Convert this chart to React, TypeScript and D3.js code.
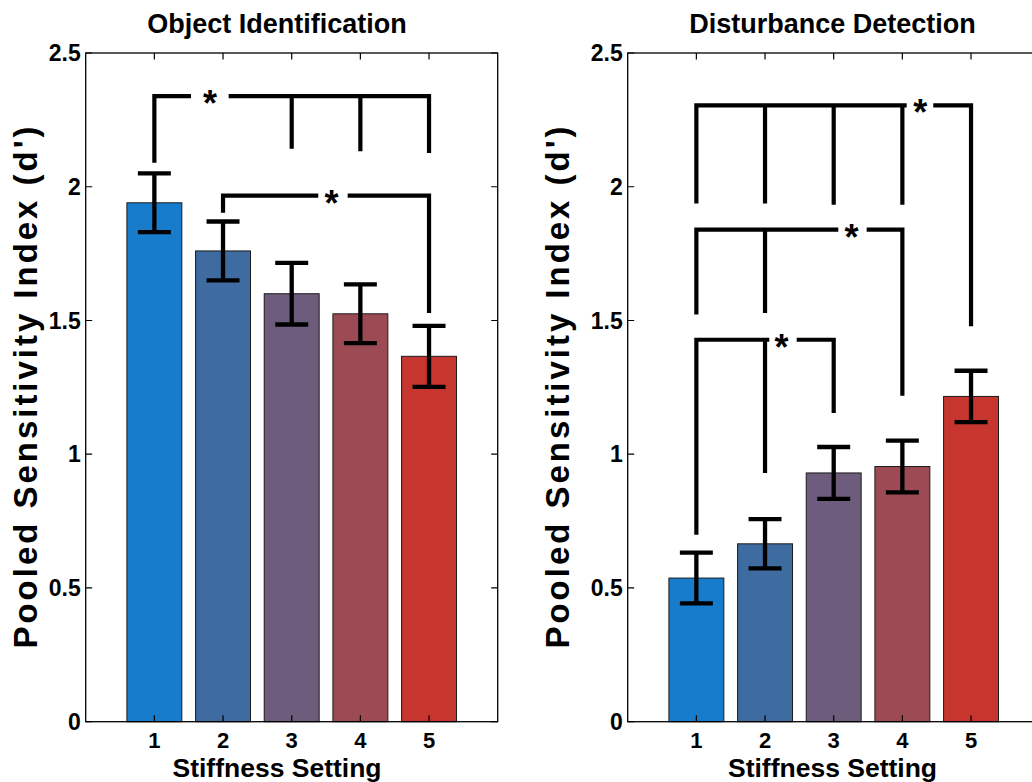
import React from "react";
import * as d3 from "d3";

const settings = [1, 2, 3, 4, 5];
const yTicks = [0, 0.5, 1, 1.5, 2, 2.5];
const barColors = ["#177ccc", "#3e6ba0", "#6e5c7c", "#9c4b55", "#c6362e"];

const objMeans = [1.94, 1.76, 1.6, 1.525, 1.366];
const objErr = [0.11, 0.11, 0.115, 0.11, 0.114];

const distMeans = [0.537, 0.665, 0.93, 0.954, 1.216];
const distErr = [0.095, 0.092, 0.097, 0.097, 0.096];

type Bracket = {
  top: number;
  legs: [number, number][];
  gap: [number, number];
  star: number;
};

const objBrackets: Bracket[] = [
  { top: 2.339, legs: [[1, 2.09], [3, 2.142], [4, 2.133], [5, 2.126]], gap: [1.533, 2.082], star: 1.81 },
  { top: 1.967, legs: [[2, 1.903], [5, 1.528]], gap: [3.387, 3.815], star: 3.58 },
];

const distBrackets: Bracket[] = [
  { top: 2.304, legs: [[1, 1.937], [2, 1.937], [3, 1.933], [4, 1.933], [5, 1.478]], gap: [4.063, 4.45], star: 4.26 },
  { top: 1.84, legs: [[1, 1.522], [2, 1.528], [4, 1.219]], gap: [3.067, 3.48], star: 3.26 },
  { top: 1.428, legs: [[1, 0.699], [2, 0.93], [3, 1.154]], gap: [2.062, 2.461], star: 2.24 },
];

const FONT = "'Liberation Sans', Arial, Helvetica, sans-serif";

const Panel = ({
  title,
  means,
  errs,
  brackets,
  left,
  labelCx,
  yLabelX,
}: {
  title: string;
  means: number[];
  errs: number[];
  brackets: Bracket[];
  left: number;
  labelCx: number;
  yLabelX: number;
}) => {
  const top = 53;
  const bottom = 721.7;
  const w = 412;
  const x = d3.scaleLinear().domain([0, 6]).range([left, left + w]);
  const y = d3.scaleLinear().domain([0, 2.5]).range([bottom, top]);
  const bw = x(0.8) - x(0);
  const cap = x(0.48) - x(0);
  const tick = 6.5;

  return (
    <g fontFamily={FONT} fontWeight="bold" fill="#000">
      <text x={labelCx} y={33} fontSize={27} textAnchor="middle">
        {title}
      </text>

      {means.map((m, i) => (
        <rect
          key={i}
          x={x(settings[i]) - bw / 2}
          y={y(m)}
          width={bw}
          height={y(0) - y(m)}
          fill={barColors[i]}
          stroke="#1b1b1b"
          strokeWidth={1}
        />
      ))}

      {means.map((m, i) => {
        const cx = x(settings[i]);
        const hi = y(m + errs[i]);
        const lo = y(m - errs[i]);
        return (
          <path
            key={i}
            d={`M${cx},${hi}V${lo}M${cx - cap / 2},${hi}H${cx + cap / 2}M${cx - cap / 2},${lo}H${cx + cap / 2}`}
            stroke="#000"
            strokeWidth={4.3}
            fill="none"
          />
        );
      })}

      {brackets.map((b, i) => {
        const first = b.legs[0];
        const last = b.legs[b.legs.length - 1];
        const yt = y(b.top);
        let d = `M${x(first[0])},${y(first[1])}V${yt}H${x(b.gap[0])}`;
        d += `M${x(b.gap[1])},${yt}H${x(last[0])}V${y(last[1])}`;
        b.legs.slice(1, -1).forEach(([c, v]) => {
          d += `M${x(c)},${yt}V${y(v)}`;
        });
        return (
          <g key={i}>
            <path d={d} stroke="#000" strokeWidth={4.2} fill="none" strokeLinejoin="miter" />
            <text x={x(b.star)} y={yt + 20} fontSize={36} textAnchor="middle">
              *
            </text>
          </g>
        );
      })}

      {/* axes box and ticks */}
      <rect x={x(0)} y={top} width={w} height={bottom - top} fill="none" stroke="#000" strokeWidth={1.3} />
      {settings.map((s) => (
        <path
          key={s}
          d={`M${x(s)},${bottom}v${-tick}M${x(s)},${top}v${tick}`}
          stroke="#000"
          strokeWidth={1.2}
        />
      ))}
      {yTicks.map((t) => (
        <path
          key={t}
          d={`M${x(0)},${y(t)}h${tick}M${x(6)},${y(t)}h${-tick}`}
          stroke="#000"
          strokeWidth={1.2}
        />
      ))}

      {yTicks.map((t) => (
        <text key={t} x={x(0) - 5} y={y(t) + 8.2} fontSize={23} textAnchor="end">
          {String(t)}
        </text>
      ))}
      {settings.map((s) => (
        <text key={s} x={x(s)} y={748} fontSize={22} textAnchor="middle">
          {s}
        </text>
      ))}

      <text x={labelCx} y={777} fontSize={26.5} textAnchor="middle">
        Stiffness Setting
      </text>
      <text
        transform={`translate(${yLabelX},387.5) rotate(-90)`}
        fontSize={33}
        textAnchor="middle"
        textLength={522}
        lengthAdjust="spacing"
      >
        Pooled Sensitivity Index (d')
      </text>
    </g>
  );
};

const App = () => (
  <svg
    width={1032}
    height={782}
    style={{ position: "absolute", left: 0, top: 0, background: "#fff" }}
  >
    <rect width={1032} height={782} fill="#fff" />
    <Panel
      title="Object Identification"
      means={objMeans}
      errs={objErr}
      brackets={objBrackets}
      left={85.7}
      labelCx={277}
      yLabelX={36.7}
    />
    <Panel
      title="Disturbance Detection"
      means={distMeans}
      errs={distErr}
      brackets={distBrackets}
      left={627.7}
      labelCx={832.5}
      yLabelX={568.7}
    />
  </svg>
);

export default App;
